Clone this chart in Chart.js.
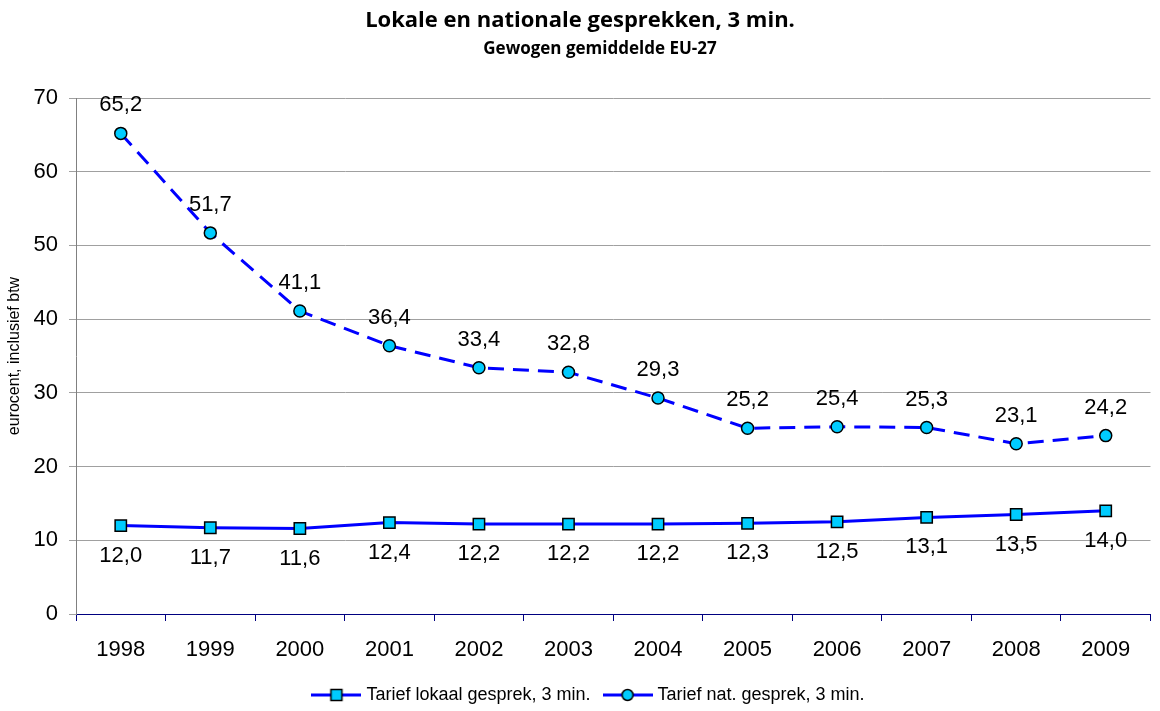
<!DOCTYPE html>
<html>
<head>
<meta charset="utf-8">
<script src="https://cdn.jsdelivr.net/npm/chart.js@4.4.1/dist/chart.umd.min.js"></script>
<style>
html,body{margin:0;padding:0;background:#fff;}
#wrap{width:1160px;height:711px;position:relative;}
</style>
</head>
<body>
<div id="wrap"><canvas id="c" width="1160" height="711"></canvas></div>
<script>
// ---- data ----
const categories = ['1998','1999','2000','2001','2002','2003','2004','2005','2006','2007','2008','2009'];
const lokaal = [12.0, 11.7, 11.6, 12.4, 12.2, 12.2, 12.2, 12.3, 12.5, 13.1, 13.5, 14.0];
const nationaal = [65.2, 51.7, 41.1, 36.4, 33.4, 32.8, 29.3, 25.2, 25.4, 25.3, 23.1, 24.2];
const seriesNames = ['Tarief lokaal gesprek, 3 min.', 'Tarief nat. gesprek, 3 min.'];
const yMin = 0, yMax = 70, yStep = 10;
const titleText = 'Lokale en nationale gesprekken, 3 min.';
const subtitleText = 'Gewogen gemiddelde EU-27';
const yAxisTitle = 'eurocent, inclusief btw';

// ---- styles ----
const LINE = '#0000FF';
const MARK = '#00CCFF';
const MARK_BORDER = '#000000';
const ARIAL = '"Liberation Sans", Arial, sans-serif';
const TITLEFONT = '"Open Sans", Lato, sans-serif';

function legendImg(shape){
  const c = document.createElement('canvas');
  c.width = 50; c.height = 16;
  const g = c.getContext('2d');
  g.strokeStyle = LINE; g.lineWidth = 3;
  g.beginPath(); g.moveTo(0, 8); g.lineTo(50, 8); g.stroke();
  g.fillStyle = MARK; g.strokeStyle = MARK_BORDER; g.lineWidth = 1.5;
  if (shape === 'rect') {
    g.fillRect(19.5, 2.5, 11, 11); g.strokeRect(19.5, 2.5, 11, 11);
  } else {
    g.beginPath(); g.arc(25, 8, 5.5, 0, Math.PI * 2); g.fill(); g.stroke();
  }
  return c;
}
const legendImgs = [legendImg('rect'), legendImg('circle')];

const valueLabels = {
  id: 'valueLabels',
  afterDatasetsDraw(chart, args, opts) {
    const ctx = chart.ctx;
    ctx.save();
    ctx.font = '22px ' + ARIAL;
    ctx.fillStyle = '#000';
    ctx.textAlign = 'center';
    ctx.textBaseline = 'middle';
    chart.data.datasets.forEach((ds, di) => {
      const meta = chart.getDatasetMeta(di);
      const off = opts.offsets[di];
      meta.data.forEach((pt, i) => {
        ctx.fillText(ds.data[i].toFixed(1).replace('.', ','), pt.x, pt.y + off);
      });
    });
    ctx.restore();
  }
};

const subTitle = {
  id: 'subTitle',
  afterDraw(chart, args, opts) {
    const ctx = chart.ctx;
    ctx.save();
    ctx.font = 'bold ' + opts.size + 'px ' + TITLEFONT;
    ctx.fillStyle = '#000';
    ctx.textAlign = 'center';
    ctx.textBaseline = 'middle';
    ctx.fillText(opts.text, opts.x, opts.y);
    ctx.restore();
  }
};

const legendShift = {
  id: 'legendShift',
  afterLayout(chart, args, opts) {
    if (chart.legend) {
      chart.legend.left += opts.dx;
      chart.legend.right += opts.dx;
    }
  }
};

new Chart(document.getElementById('c'), {
  type: 'line',
  data: {
    labels: categories,
    datasets: [
      {
        label: seriesNames[0],
        data: lokaal,
        borderColor: LINE,
        borderWidth: 3,
        backgroundColor: MARK,
        pointStyle: 'rect',
        pointRadius: 8,
        pointBorderColor: MARK_BORDER,
        pointBorderWidth: 1.5,
        tension: 0
      },
      {
        label: seriesNames[1],
        data: nationaal,
        borderColor: LINE,
        borderWidth: 3,
        borderDash: [16, 9],
        backgroundColor: MARK,
        pointStyle: 'circle',
        pointRadius: 6,
        pointBorderColor: MARK_BORDER,
        pointBorderWidth: 1.5,
        tension: 0
      }
    ]
  },
  options: {
    responsive: false,
    animation: false,
    devicePixelRatio: 1,
    layout: { padding: { top: 8, left: 0, right: 0, bottom: -3 } },
    plugins: {
      title: {
        display: true,
        text: titleText,
        color: '#000',
        font: { family: TITLEFONT, size: 22, weight: 'bold', lineHeight: 1.2 },
        padding: { top: 0, bottom: 63.6 }
      },
      legend: {
        position: 'bottom',
        labels: {
          usePointStyle: true,
          pointStyleWidth: 42,
          padding: 16,
          color: '#000',
          font: { family: ARIAL, size: 18 },
          generateLabels(chart) {
            const items = Chart.defaults.plugins.legend.labels.generateLabels(chart);
            items.forEach((it, i) => { it.pointStyle = legendImgs[i]; });
            return items;
          }
        }
      },
      tooltip: { enabled: false },
      valueLabels: { offsets: [30, -28] },
      subTitle: { text: subtitleText, x: 600, y: 49, size: 17 },
      legendShift: { dx: 10 }
    },
    scales: {
      x: {
        type: 'category',
        offset: true,
        grid: { offset: true, drawOnChartArea: false, drawTicks: true, tickLength: 7, color: '#000080' },
        border: { color: '#000080', width: 1 },
        ticks: { font: { family: ARIAL, size: 22 }, color: '#000', padding: 16, maxRotation: 0, autoSkip: false },
        afterFit(s) { s.height = 56; }
      },
      y: {
        min: yMin, max: yMax,
        ticks: { stepSize: yStep, font: { family: ARIAL, size: 22 }, color: '#000', padding: 11 },
        grid: {
          color: (c) => (c.tick && c.tick.value === 0 ? '#000080' : '#a0a0a0'),
          tickColor: '#a0a0a0',
          tickLength: 7
        },
        border: { color: '#808080', width: 1 },
        title: { display: true, text: yAxisTitle, color: '#000', font: { family: ARIAL, size: 16 }, padding: { top: 5, bottom: 0 } },
        afterFit(s) { s.width = 76; }
      }
    }
  },
  plugins: [valueLabels, subTitle, legendShift]
});
</script>
</body>
</html>
